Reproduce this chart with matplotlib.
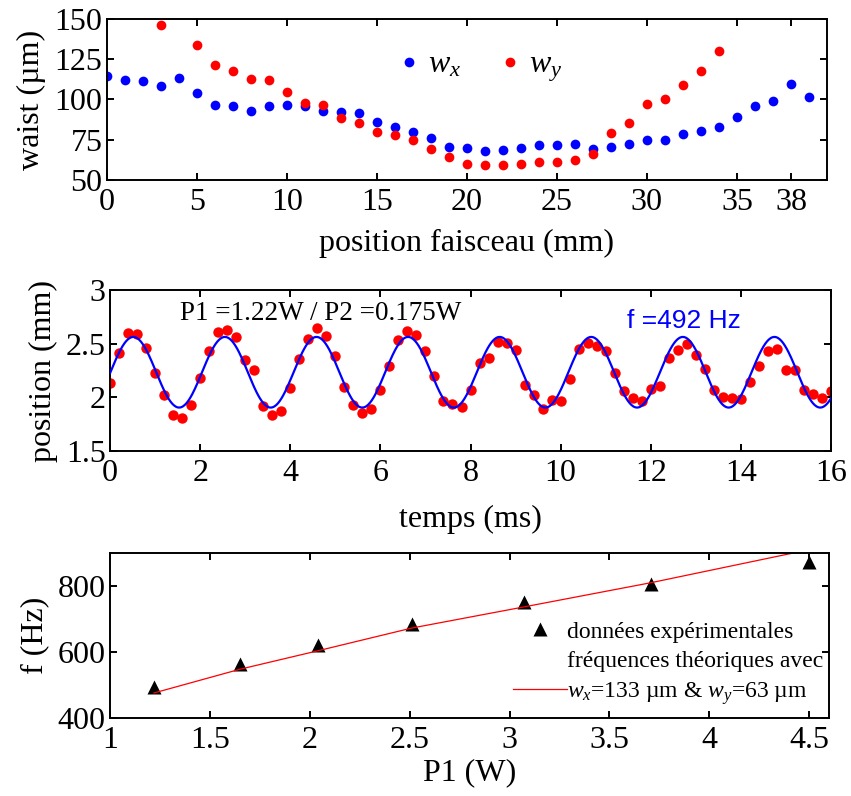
import matplotlib
matplotlib.use("Agg")
import matplotlib.pyplot as plt
import numpy as np
from matplotlib.lines import Line2D
from matplotlib.ticker import FuncFormatter

# --- top panel: beam waist along the beam ---
pos_x = list(range(0, 40))
waist_x = [114.5, 112.1, 111.5, 108.4, 113.1, 103.9, 96.5, 95.7, 92.6, 95.7,
           96.5, 95.9, 92.6, 92.0, 91.6, 86.3, 83.2, 79.7, 76.0, 70.5,
           69.9, 68.0, 68.9, 70.1, 71.5, 71.5, 72.1, 69.1, 70.5, 72.1,
           75.0, 75.0, 78.7, 80.7, 83.2, 88.9, 95.7, 98.8, 109.4, 101.8]
pos_y = [3] + list(range(5, 35))
waist_y = [146.5, 134.0, 121.3, 117.6, 112.9, 112.1, 104.9, 97.5, 96.7, 88.3,
           85.2, 80.1, 77.7, 74.6, 69.5, 64.3, 60.2, 59.2, 59.2, 60.2,
           60.9, 60.9, 62.7, 66.0, 79.3, 85.2, 97.1, 100.2, 109.0, 117.6, 130.3]
top_xticks = [0, 5, 10, 15, 20, 25, 30, 35, 38]

# --- middle panel: position vs time (samples every 0.2 ms) ---
t_ms = [round(0.2 * k, 1) for k in range(81)]
position = [2.137, 2.414, 2.605, 2.595, 2.464, 2.227, 2.019, 1.838, 1.810, 1.932,
            2.180, 2.430, 2.610, 2.633, 2.564, 2.346, 2.252, 1.916, 1.838, 1.874,
            2.091, 2.362, 2.549, 2.648, 2.570, 2.386, 2.096, 1.925, 1.853, 1.894,
            2.072, 2.293, 2.539, 2.617, 2.579, 2.433, 2.196, 1.966, 1.935, 1.907,
            2.072, 2.324, 2.371, 2.517, 2.508, 2.446, 2.112, 2.019, 1.894, 1.972,
            1.966, 2.168, 2.455, 2.508, 2.480, 2.430, 2.227, 2.059, 1.997, 1.961,
            2.081, 2.103, 2.368, 2.439, 2.502, 2.393, 2.268, 2.072, 2.003, 1.994,
            1.981, 2.143, 2.290, 2.433, 2.455, 2.252, 2.252, 2.065, 2.034, 1.994,
            2.059]
# sine fit parameters
fit_freq_hz = 492
fit_offset = 2.234
fit_amp = 0.33
fit_t_peak_ms = 0.517

# --- bottom panel: frequency vs power ---
p1_w = [1.22, 1.65, 2.04, 2.51, 3.07, 3.71, 4.5]
f_meas = [492, 563, 620, 685, 752, 805, 873]
f_theo = [475, 547, 603, 672, 736, 810, 910]

plt.rcParams["font.family"] = "Liberation Serif"
plt.rcParams["mathtext.fontset"] = "custom"
plt.rcParams["mathtext.rm"] = "Liberation Serif"
plt.rcParams["mathtext.it"] = "Liberation Serif:italic"
plt.rcParams["axes.linewidth"] = 1.4
plt.rcParams["xtick.direction"] = "in"
plt.rcParams["ytick.direction"] = "in"
plt.rcParams["xtick.top"] = True
plt.rcParams["ytick.right"] = True
plt.rcParams["xtick.major.size"] = 5
plt.rcParams["ytick.major.size"] = 5
plt.rcParams["xtick.major.width"] = 1.4
plt.rcParams["ytick.major.width"] = 1.4
plt.rcParams["xtick.major.pad"] = 6
plt.rcParams["ytick.major.pad"] = 3

fs = 23
fmt = FuncFormatter(lambda v, _: "%g" % v)

fig = plt.figure(figsize=(8.51, 7.96), dpi=100)

# top
ax1 = fig.add_axes([0.1254, 0.7739, 0.8464, 0.2023])
ax1.plot(pos_x, waist_x, "o", color="blue", ms=7, mec="none", label=r"$w_x$")
ax1.plot(pos_y, waist_y, "o", color="red", ms=7, mec="none", label=r"$w_y$")
ax1.set_xlim(0, 40)
ax1.set_ylim(50, 150)
ax1.set_xticks(top_xticks)
ax1.set_yticks([50, 75, 100, 125, 150])
ax1.set_xlabel("position faisceau (mm)", fontsize=fs, labelpad=8)
ax1.set_ylabel("waist (µm)", fontsize=fs, labelpad=6)
ax1.tick_params(labelsize=fs)
ax1.legend(loc="center", bbox_to_anchor=(0.515, 0.7), ncol=2, frameon=False,
           fontsize=fs, handletextpad=0.1, columnspacing=1.0, handlelength=1.0)

# middle
ax2 = fig.add_axes([0.1293, 0.4337, 0.8472, 0.2016])
t_fit = np.linspace(0, 16, 800)
y_fit = fit_offset + fit_amp * np.cos(2 * np.pi * fit_freq_hz * (t_fit - fit_t_peak_ms) * 1e-3)
ax2.plot(t_ms, position, "o", color="red", ms=7.5, mec="none", zorder=2)
ax2.plot(t_fit, y_fit, color="blue", lw=1.6, zorder=3)
ax2.set_xlim(0, 16)
ax2.set_ylim(1.5, 3)
ax2.set_xticks(range(0, 17, 2))
ax2.set_yticks([1.5, 2, 2.5, 3])
ax2.yaxis.set_major_formatter(fmt)
ax2.set_xlabel("temps (ms)", fontsize=fs, labelpad=12)
ax2.set_ylabel("position (mm)", fontsize=fs, labelpad=6)
ax2.tick_params(labelsize=fs)
ax2.text(0.097, 0.855, "P1 =1.22W / P2 =0.175W", transform=ax2.transAxes,
         fontsize=19.5, va="center", ha="left")
ax2.text(0.717, 0.81, "f =%d Hz" % fit_freq_hz, transform=ax2.transAxes,
         fontsize=19, va="center", ha="left", color="blue", family="Liberation Sans")

# bottom
ax3 = fig.add_axes([0.1293, 0.0984, 0.845, 0.2069])
ax3.plot(p1_w, f_meas, "^", color="black", ms=10, mec="none")
ax3.plot(p1_w, f_theo, "-", color="red", lw=0.9)
ax3.set_xlim(1, 4.6)
ax3.set_ylim(400, 900)
ax3.set_xticks([1, 1.5, 2, 2.5, 3, 3.5, 4, 4.5])
ax3.set_yticks([400, 600, 800])
ax3.xaxis.set_major_formatter(fmt)
ax3.set_xlabel("P1 (W)", fontsize=fs, labelpad=2)
ax3.set_ylabel("f (Hz)", fontsize=fs, labelpad=6)
ax3.tick_params(labelsize=fs)
# legend: the red line sits on the second line of its label, as in the original
h_meas = Line2D([], [], ls="none", marker="^", color="black", ms=10, mec="none")
h_blank = Line2D([], [], ls="none")
h_theo = Line2D([], [], color="red", lw=0.9)
ax3.legend([h_meas, h_blank, h_theo],
           ["données expérimentales", "fréquences théoriques avec",
            "$w_x$=133 µm & $w_y$=63 µm"],
           loc="upper left", bbox_to_anchor=(0.531, 0.715), frameon=False,
           fontsize=17, handlelength=2.3, handletextpad=0.0, labelspacing=0.33)

fig.savefig("out.png", dpi=100)
